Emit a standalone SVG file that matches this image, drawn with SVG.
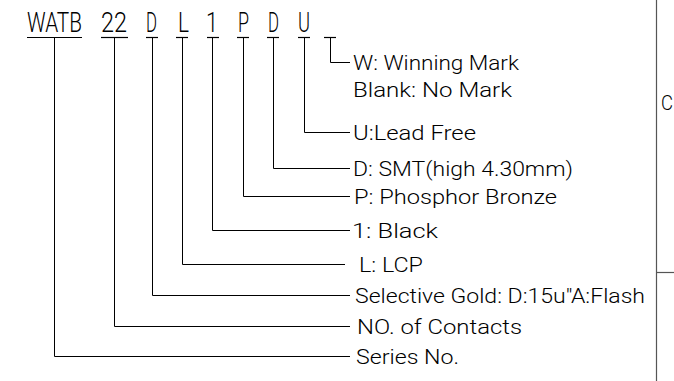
<svg xmlns="http://www.w3.org/2000/svg" width="674" height="381" viewBox="0 0 674 381">
<style>
.code{font-family:Roboto,"Liberation Sans",Arial,sans-serif;font-weight:300;font-size:27px;fill:#000}
.lbl{font-family:Roboto,"Liberation Sans",Arial,sans-serif;font-weight:300;font-size:21px;fill:#000}
.ln{fill:none;stroke:#000;stroke-width:1}
.ul{fill:none;stroke:#000;stroke-width:1.2}
.frame{fill:none;stroke:#555;stroke-width:1.2}
</style>
<rect width="674" height="381" fill="#fff"/>
<g id="code-series"><text class="code" x="27" y="32" textLength="55" lengthAdjust="spacingAndGlyphs">WATB</text><path class="ul" d="M27 37.5H82"/></g>
<g id="code-contacts"><text class="code" x="101" y="32" textLength="26" lengthAdjust="spacingAndGlyphs">22</text><path class="ul" d="M101 37.5H128"/></g>
<g id="code-plating"><text class="code" x="146" y="32" textLength="11" lengthAdjust="spacingAndGlyphs">D</text><path class="ul" d="M146 37.5H158"/></g>
<g id="code-material"><text class="code" x="178" y="32" textLength="11" lengthAdjust="spacingAndGlyphs">L</text><path class="ul" d="M176 37.5H188"/></g>
<g id="code-color"><text class="code" x="206" y="32" textLength="12" lengthAdjust="spacingAndGlyphs">1</text><path class="ul" d="M207 37.5H219"/></g>
<g id="code-contact"><text class="code" x="238" y="32" textLength="11" lengthAdjust="spacingAndGlyphs">P</text><path class="ul" d="M237 37.5H249"/></g>
<g id="code-type"><text class="code" x="268" y="32" textLength="11" lengthAdjust="spacingAndGlyphs">D</text><path class="ul" d="M267 37.5H279"/></g>
<g id="code-leadfree"><text class="code" x="298" y="32" textLength="12" lengthAdjust="spacingAndGlyphs">U</text><path class="ul" d="M298 37.5H310"/></g>
<g id="code-mark"><path class="ul" d="M324 37.5H336"/></g>

<g id="connectors">
<path class="ln" d="M54.5 37.5V356.5H350"/>
<path class="ln" d="M114.5 37.5V326.5H350"/>
<path class="ln" d="M152.5 37.5V295.5H350"/>
<path class="ln" d="M182.5 37.5V264.5H345"/>
<path class="ln" d="M212.5 37.5V230.5H350"/>
<path class="ln" d="M243.5 37.5V196.5H350"/>
<path class="ln" d="M273.5 37.5V168.5H350"/>
<path class="ln" d="M304.5 37.5V132.5H350"/>
<path class="ln" d="M330.5 37.5V62.5H350"/>
</g>

<g id="label-mark"><text class="lbl" x="353" y="70" textLength="166" lengthAdjust="spacingAndGlyphs">W: Winning Mark</text><text class="lbl" x="353" y="97" textLength="159" lengthAdjust="spacingAndGlyphs">Blank: No Mark</text></g>
<g id="label-leadfree"><text class="lbl" x="353" y="140" textLength="123" lengthAdjust="spacingAndGlyphs">U:Lead Free</text></g>
<g id="label-type"><text class="lbl" x="353" y="176" textLength="220" lengthAdjust="spacingAndGlyphs">D: SMT(high 4.30mm)</text></g>
<g id="label-contact"><text class="lbl" x="354" y="204" textLength="203" lengthAdjust="spacingAndGlyphs">P: Phosphor Bronze</text></g>
<g id="label-color"><text class="lbl" x="352" y="238" textLength="86" lengthAdjust="spacingAndGlyphs">1: Black</text></g>
<g id="label-material"><text class="lbl" x="359" y="272" textLength="64" lengthAdjust="spacingAndGlyphs">L: LCP</text></g>
<g id="label-plating"><text class="lbl" x="355" y="303" textLength="290" lengthAdjust="spacingAndGlyphs">Selective Gold: D:15u"A:Flash</text></g>
<g id="label-contacts"><text class="lbl" x="357" y="334" textLength="165" lengthAdjust="spacingAndGlyphs">NO. of Contacts</text></g>
<g id="label-series"><text class="lbl" x="356" y="364" textLength="103" lengthAdjust="spacingAndGlyphs">Series No.</text></g>

<g id="frame-right">
<path class="frame" d="M656.5 0V381"/>
<path class="frame" d="M656.5 272.5H674"/>
<text class="lbl" x="661" y="110" textLength="12" lengthAdjust="spacingAndGlyphs">C</text>
</g>
</svg>
